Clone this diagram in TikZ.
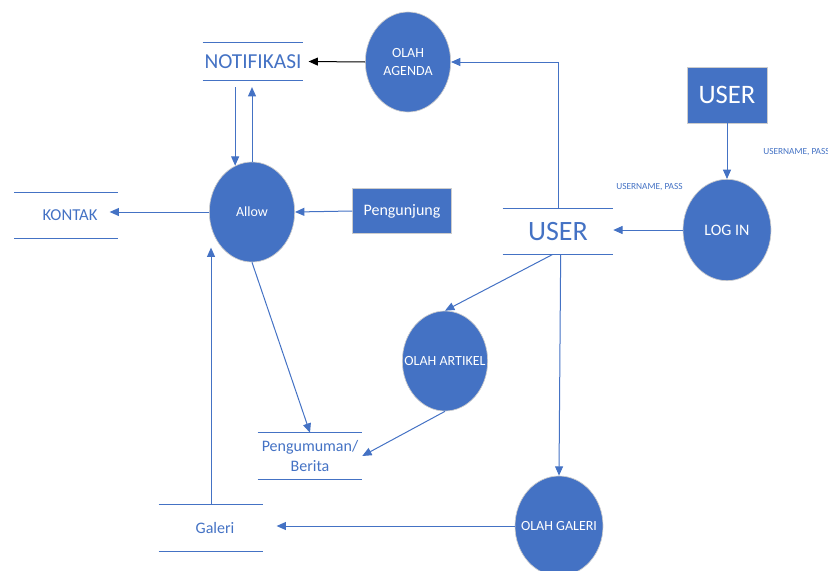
\documentclass[tikz,border=0pt]{standalone}
\usepackage{fontspec}
\setmainfont{Carlito}
\usetikzlibrary{shapes.geometric, arrows.meta}
\definecolor{ublue}{HTML}{4472C4}

\begin{document}
\begin{tikzpicture}[x=0.75pt, y=-0.75pt,
    process/.style={ellipse, fill=ublue, draw=gray!40, line width=0.5pt, minimum width=64pt, minimum height=75pt, inner sep=0pt},
    ptext/.style={text=white, align=center, font=\fontsize{10.5}{14}\selectfont},
    entity/.style={rectangle, fill=ublue, draw=gray!40, line width=0.5pt, text=white, inner sep=0pt},
    datastore/.style={text=ublue, align=center, inner sep=0pt, minimum height=34pt},
    dataflow/.style={draw=ublue, line width=0.75pt, -{Triangle[length=7pt,width=6pt]}},
    flowlabel/.style={text=ublue, font=\fontsize{7}{8}\selectfont, inner sep=0pt}]

    \useasboundingbox (0,0) rectangle (828,571);

    % Processes
    \node[process, label={[ptext]center:OLAH\\AGENDA}] (agenda) at (408,62) {};
    \node[process, label={[ptext]center:Allow}] (allow) at (252,212) {};
    \node[process, minimum width=66pt, minimum height=76pt, label={[ptext, font=\fontsize{12}{14}\selectfont]center:LOG IN}] (login) at (727,230) {};
    \node[process, label={[ptext]center:OLAH ARTIKEL}] (artikel) at (445,361) {};
    \node[process, minimum width=66pt, label={[ptext]center:OLAH GALERI}] (olahgaleri) at (559,526) {};

    % Entities
    \node[entity, minimum width=74pt, minimum height=34pt, font=\fontsize{12}{14}\selectfont] (pengunjung) at (402,211) {Pengunjung};
    \node[entity, minimum width=60pt, minimum height=42pt, font=\fontsize{20}{22}\selectfont] (user) at (727,95) {USER};

    % Data stores
    \node[datastore, minimum width=75pt, minimum height=28pt, font=\fontsize{16}{18}\selectfont] (notif) at (253,61.5) {NOTIFIKASI};
    \node[datastore, minimum width=77pt, font=\fontsize{12.5}{14}\selectfont] (kontak) at (66,215.5) {\hspace*{6pt}KONTAK};
    \node[datastore, minimum width=82.5pt, font=\fontsize{21}{24}\selectfont] (userstore) at (558,231.5) {USER};
    \node[datastore, minimum width=78pt, minimum height=34.5pt, font=\fontsize{12}{15}\selectfont] (berita) at (310,456) {Pengumuman/\\Berita};
    \node[datastore, minimum width=78pt, minimum height=34.5pt, font=\fontsize{12}{14}\selectfont] (galeri) at (211,528) {\hspace*{6pt}Galeri};
    \foreach \s in {notif, kontak, userstore, berita, galeri}
        \draw[ublue, line width=0.75pt] (\s.north west) -- (\s.north east) (\s.south west) -- (\s.south east);

    % Flows
    \draw[dataflow, draw=black] (agenda.west) -- ([xshift=4pt]notif.east);
    \draw[dataflow, shorten <=5pt] (notif.south -| allow.110) -- (allow.110);
    \draw[dataflow, shorten >=5pt] (allow.north) -- (allow.north |- notif.south);
    \draw[dataflow] (allow.west) -- ([xshift=-6pt]allow.west -| kontak.east);
    \draw[dataflow] (pengunjung.west) -- (allow.east);
    \draw[dataflow] (userstore.north) |- (agenda.east);
    \draw[dataflow] (user.south) -- (login.north);
    \draw[dataflow] (login.west) -- (login.west -| userstore.east);
    \draw[dataflow] ([xshift=-4pt]userstore.south) -- (artikel.north);
    \draw[dataflow] ([xshift=2pt]userstore.south) -- (olahgaleri.north);
    \draw[dataflow] (olahgaleri.west) -- ([xshift=10pt]olahgaleri.west -| galeri.east);
    \draw[dataflow] (galeri.north) -- (galeri.north |- allow.south west);
    \draw[dataflow] (allow.south) -- (berita.north);
    \draw[dataflow] (artikel.south) -- (berita.east);

    % Labels
    \node[flowlabel, anchor=west] (lbllogin) at (616,187) {USERNAME, PASS};
    \node[flowlabel, anchor=west] (lbluser) at (763,152) {USERNAME, PASS};
\end{tikzpicture}
\end{document}
